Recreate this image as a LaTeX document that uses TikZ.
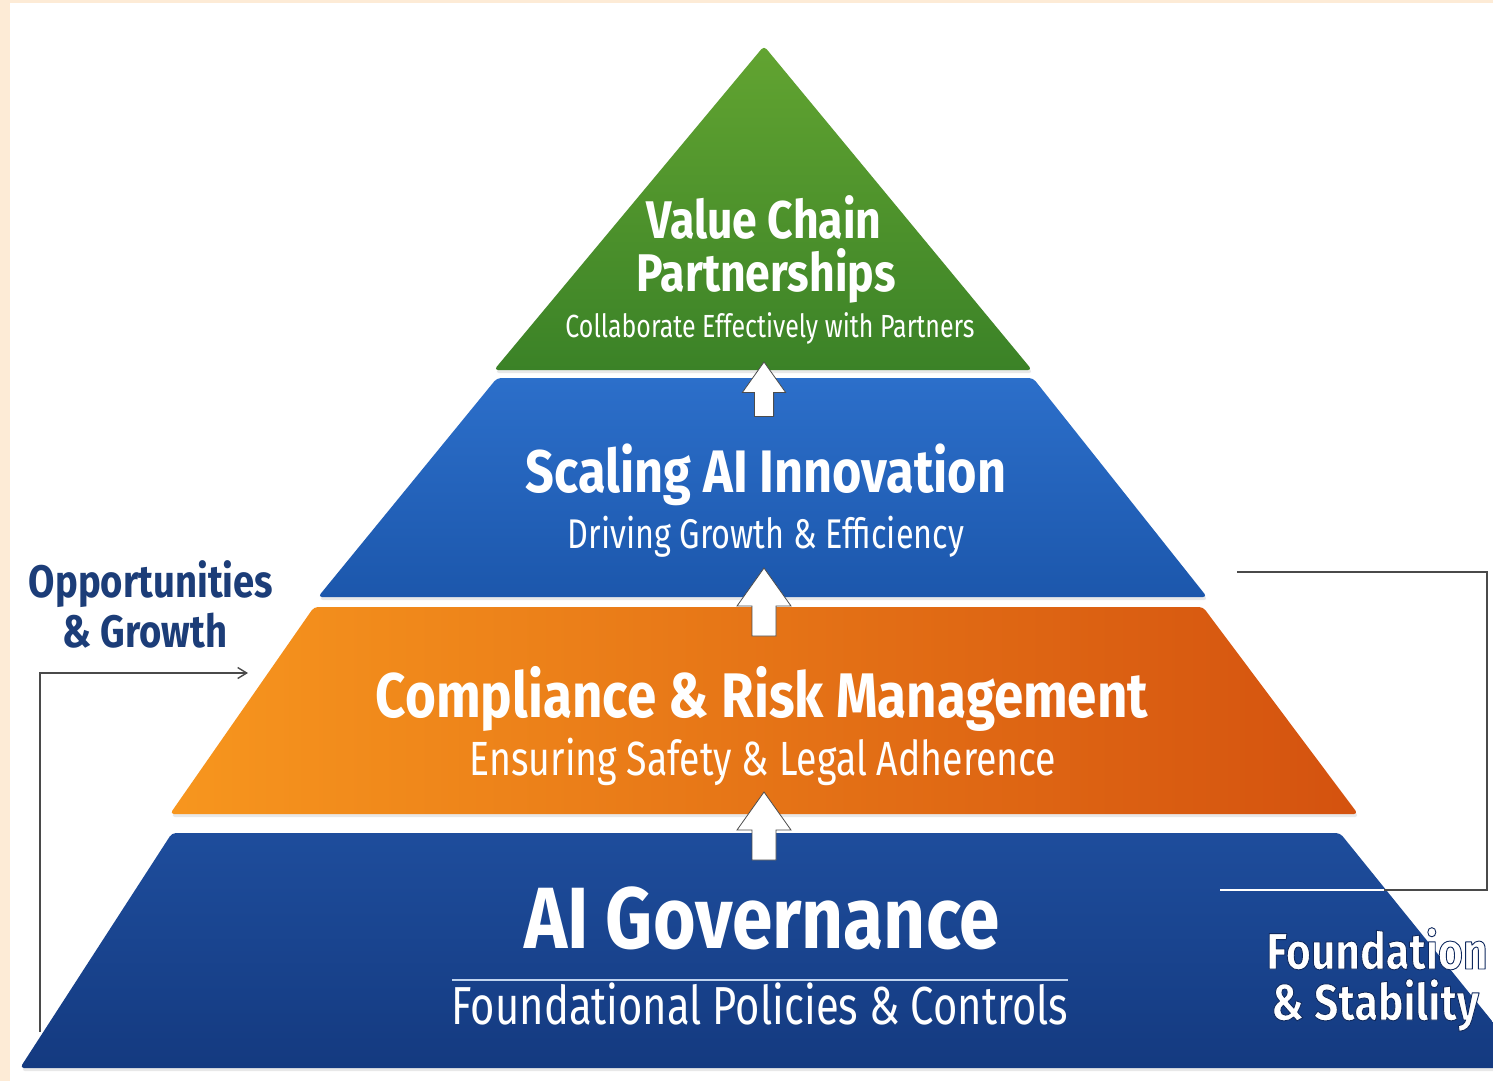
\documentclass[tikz,border=0pt]{standalone}
\usepackage{fontspec}
\setmainfont{Fira Sans}
\newfontfamily\headfont[FakeStretch=0.84]{Fira Sans}
\newfontfamily\subfont[FakeStretch=0.78]{Fira Sans}
\usetikzlibrary{arrows.meta,shadows}

\definecolor{peach}{HTML}{FDEBD6}
\definecolor{leafhi}{HTML}{62A431}
\definecolor{leaflo}{HTML}{3B8227}
\definecolor{skyhi}{HTML}{2C6FCA}
\definecolor{skylo}{HTML}{1C57AC}
\definecolor{amberhi}{HTML}{F7961E}
\definecolor{amberlo}{HTML}{D4520F}
\definecolor{navyhi}{HTML}{1E4D9C}
\definecolor{navylo}{HTML}{143A80}
\definecolor{inkblue}{HTML}{1C3D78}
\definecolor{rulegray}{HTML}{4A4A4A}

% dark rim round white lettering (stroke the glyph outlines)
\newcommand\halo[1]{\special{pdf:literal direct 0.06 0.16 0.37 RG 0.9 w 1 j 2 Tr}#1\special{pdf:literal direct 0 Tr}}

\tikzset{
  layer/.style={rounded corners=4pt,drop shadow={opacity=0.18,shadow xshift=1pt,shadow yshift=-3pt}},
  title/.style={text=white,inner sep=0pt,anchor=base,font=\headfont\bfseries\fontsize{#1}{#1}\selectfont},
  subtitle/.style={text=white,inner sep=0pt,anchor=base,font=\subfont\fontsize{#1}{#1}\selectfont},
  sidelabel/.style={inner sep=0pt,anchor=base,font=\headfont\bfseries\fontsize{#1}{#1}\selectfont},
  blockarrow/.style={fill=white,draw=black!70,line width=0.8pt,line join=miter},
  bracket/.style={draw=rulegray,line width=1.4pt},
}

\begin{document}
\begin{tikzpicture}[x=1pt,y=-1pt]
\useasboundingbox (0,0) rectangle (1493,1081);
\fill[peach] (0,0) rectangle (1493,1081);
\fill[white] (10,3) rectangle (1493,1081);

% pyramid, from the base up
\shade[layer,top color=navyhi,bottom color=navylo]
  (172,833) -- (1340,833) -- (1530,1068) -- (20,1068) -- cycle;
\shade[layer,left color=amberhi,right color=amberlo]
  (314,607) -- (1203,607) -- (1358,814) -- (170,814) -- cycle;
\shade[layer,top color=skyhi,bottom color=skylo]
  (497,378) -- (1033,378) -- (1207,597) -- (318,597) -- cycle;
\shade[layer,top color=leafhi,bottom color=leaflo]
  (764,46) -- (1032,370) -- (494,370) -- cycle;

% arrows between the layers
\foreach \t/\s in {362/0.8,568/1,792/1}
  \draw[blockarrow] (764,\t) -- ++(27*\s,38*\s) -- ++(-15*\s,0) -- ++(0,30*\s)
    -- ++(-24*\s,0) -- ++(0,-30*\s) -- ++(-15*\s,0) -- cycle;

% layer texts
\node[title=53] (valuea) at (764,238) {Value Chain};
\node[title=53] (valueb) at (766,291) {Partnerships};
\node[subtitle=32] (valuesub) at (770,337) {Collaborate Effectively with Partners};

\node[title=60] (scaling) at (766,492) {Scaling AI Innovation};
\node[subtitle=41.5] (scalingsub) at (766,548) {Driving Growth \& Efficiency};

\node[title=63] (compliance) at (762,717) {Compliance \& Risk Management};
\node[subtitle=48] (compliancesub) at (763,775) {Ensuring Safety \& Legal Adherence};

\node[title=87] (governance) at (762,948) {AI Governance};
\draw[draw=white!70!skyhi,line width=1.5pt] (452,980) -- (1068,980);
\node[subtitle=53.5] (governancesub) at (760,1024) {Foundational Policies \& Controls};

% side labels
\node[sidelabel=45.5,text=inkblue] (growtha) at (151,597) {Opportunities};
\node[sidelabel=45.5,text=inkblue] (growthb) at (145,647) {\& Growth};
\node[sidelabel=51,text=white] (stablea) at (1377,969) {\halo{Foundation}};
\node[sidelabel=51,text=white] (stableb) at (1375,1020) {\halo{\& Stability}};

% brackets
\coordinate (growthfoot) at (40,1032);
\coordinate (growthtip) at (248,673);
\draw[bracket,-{Straight Barb[length=9pt,width=11pt]}] (growthfoot) |- (growthtip);

\coordinate (stabletop) at (1237,572);
\coordinate (stablecorner) at (1487,890);
\coordinate (stablefoot) at (1220,890);
\coordinate (stableedge) at (1384,890);
\draw[bracket] (stabletop) -| (stablecorner) -- (stablefoot);
\draw[white,line width=1.8pt] (stablefoot) -- (stableedge);
\end{tikzpicture}
\end{document}
